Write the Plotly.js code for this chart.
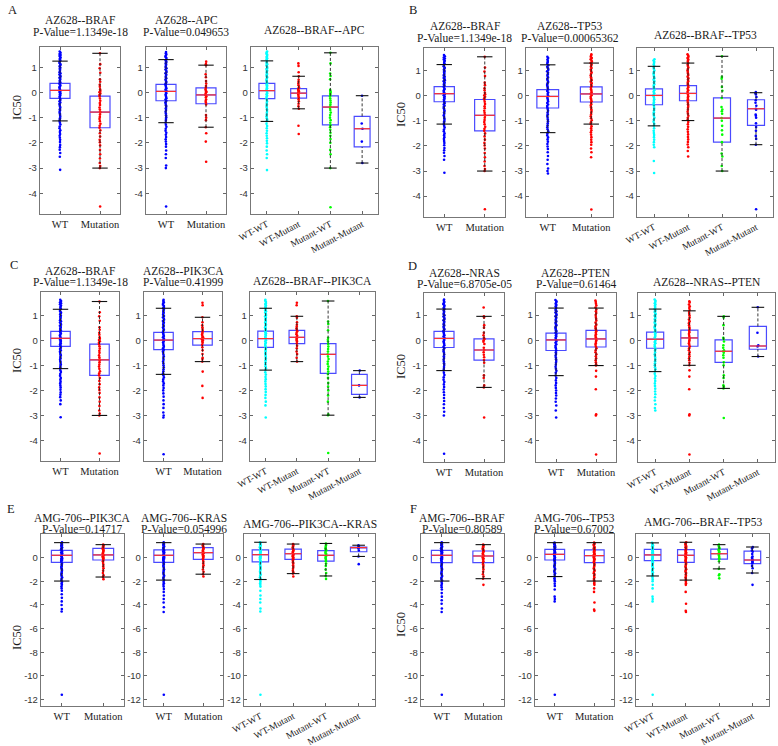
<!DOCTYPE html>
<html><head><meta charset="utf-8">
<script src="https://cdn.plot.ly/plotly-3.0.1.min.js"></script>
<style>html,body{margin:0;padding:0;background:#fff}#chart{width:778px;height:746px}</style>
</head><body><div id="chart"></div>
<script>
// ---------- categories / colours ----------
const CAT2 = ['WT','Mutation'];
const CAT4 = ['WT-WT','WT-Mutant','Mutant-WT','Mutant-Mutant'];
const COL2 = ['#0000ff','#ff0000'];
const COL4 = ['#00ffff','#ff0000','#00ff00','#0000ff'];

// ---------- AZ628 data (IC50 points, box stats = [lowWhisker,q1,median,q3,highWhisker]) ----------
const AZ_BRAF_WT = [1.62,1.57,1.52,1.48,1.44,1.39,1.35,1.3,1.26,1.22,1.17,1.12,1.08,1.03,0.98,0.94,0.9,0.85,0.8,0.76,0.71,0.67,0.62,0.58,0.53,0.49,0.45,0.4,0.36,0.32,0.27,0.23,0.19,0.14,0.1,0.06,0.02,-0.03,-0.07,-0.12,-0.16,-0.21,-0.25,-0.3,-0.35,-0.4,-0.45,-0.5,-0.56,-0.61,-0.67,-0.72,-0.78,-0.84,-0.9,-0.96,-1.02,-1.08,-1.13,-1.2,-1.27,-1.35,-1.42,-1.5,-1.57,-1.65,-1.72,-1.8,-1.88,-1.97,-2.08,-2.17,-2.27,-2.4,-2.55,-3.07];
const AZ_BRAF_WT_BOX = [-1.13,-0.24,0.08,0.36,1.24];
const AZ_BRAF_MUT = [1.55,1.12,0.96,0.78,0.52,0.42,0.3,0.22,0.12,0.06,0.01,-0.04,-0.1,-0.16,-0.24,-0.33,-0.42,-0.5,-0.6,-0.68,-0.76,-0.8,-0.88,-0.97,-1.05,-1.14,-1.24,-1.32,-1.4,-1.5,-1.62,-1.75,-1.88,-1.98,-2.1,-2.28,-2.45,-2.62,-2.8,-2.92,-3.0,-4.52];
const AZ_BRAF_MUT_BOX = [-3.0,-1.4,-0.78,-0.15,1.55];

const AZ_APC_WT = [1.6,1.55,1.5,1.45,1.41,1.36,1.3,1.26,1.21,1.16,1.11,1.06,1.01,0.96,0.91,0.86,0.81,0.76,0.71,0.66,0.61,0.56,0.51,0.46,0.41,0.36,0.31,0.26,0.21,0.16,0.11,0.06,0.02,-0.03,-0.08,-0.13,-0.18,-0.23,-0.28,-0.33,-0.39,-0.45,-0.51,-0.57,-0.63,-0.7,-0.77,-0.84,-0.91,-0.98,-1.05,-1.12,-1.2,-1.28,-1.36,-1.44,-1.52,-1.6,-1.68,-1.77,-1.86,-1.95,-2.05,-2.15,-2.3,-2.45,-2.6,-2.9,-3.0,-4.52];
const AZ_APC_WT_BOX = [-1.2,-0.33,0.04,0.32,1.3];
const AZ_APC_MUT = [1.22,1.12,1.08,0.72,0.6,0.45,0.35,0.25,0.18,0.12,0.06,0.02,-0.04,-0.1,-0.15,-0.2,-0.28,-0.34,-0.4,-0.48,-0.9,-1.0,-1.1,-1.38,-1.62,-1.95,-2.75];
const AZ_APC_MUT_BOX = [-1.38,-0.45,-0.1,0.18,1.08];

const AZ_BA_WTWT = [1.62,1.58,1.53,1.49,1.44,1.4,1.35,1.31,1.26,1.21,1.17,1.12,1.07,1.02,0.97,0.93,0.88,0.83,0.78,0.73,0.69,0.64,0.59,0.54,0.49,0.45,0.4,0.35,0.3,0.26,0.21,0.16,0.12,0.07,0.02,-0.03,-0.08,-0.13,-0.18,-0.24,-0.3,-0.36,-0.42,-0.48,-0.54,-0.6,-0.67,-0.74,-0.81,-0.88,-0.95,-1.02,-1.09,-1.15,-1.24,-1.33,-1.42,-1.52,-1.62,-1.72,-1.82,-1.92,-2.02,-2.15,-2.3,-2.45,-2.6,-3.08];
const AZ_BA_WTWT_BOX = [-1.15,-0.25,0.07,0.36,1.25];
const AZ_BA_WTMUT = [1.15,1.05,0.8,0.64,0.5,0.42,0.35,0.28,0.2,0.14,0.1,0.05,0.01,-0.03,-0.08,-0.14,-0.2,-0.27,-0.35,-0.45,-0.55,-0.65,-1.32,-1.65];
const AZ_BA_WTMUT_BOX = [-0.65,-0.23,-0.03,0.15,0.64];
const AZ_BA_MUTWT = [1.57,1.15,0.75,0.65,0.52,0.1,0.05,0.0,-0.05,-0.1,-0.16,-0.24,-0.32,-0.4,-0.48,-0.55,-0.62,-0.7,-0.8,-0.9,-1.0,-1.1,-1.2,-1.3,-1.38,-1.48,-1.6,-1.72,-1.85,-2.0,-2.28,-2.45,-3.0,-4.55];
const AZ_BA_MUTWT_BOX = [-3.0,-1.29,-0.58,-0.14,1.57];
const AZ_BA_MUTMUT = [-0.13,-1.23,-1.44,-1.95,-2.8];
const AZ_BA_MUTMUT_BOX = [-2.8,-2.16,-1.44,-0.95,-0.13];

const AZ_TP53_WT = [1.55,1.5,1.44,1.38,1.33,1.27,1.21,1.15,1.09,1.03,0.97,0.91,0.85,0.79,0.73,0.67,0.61,0.55,0.49,0.43,0.37,0.31,0.25,0.19,0.13,0.07,0.01,-0.05,-0.11,-0.17,-0.23,-0.29,-0.35,-0.41,-0.47,-0.53,-0.6,-0.67,-0.74,-0.81,-0.88,-0.95,-1.02,-1.1,-1.18,-1.26,-1.34,-1.42,-1.5,-1.58,-1.66,-1.74,-1.83,-1.92,-2.02,-2.12,-2.25,-2.4,-2.55,-2.72,-2.9,-3.0,-3.1];
const AZ_TP53_WT_BOX = [-1.47,-0.49,-0.03,0.24,1.23];
const AZ_TP53_MUT = [1.65,1.6,1.55,1.5,1.45,1.4,1.35,1.3,1.25,1.2,1.15,1.1,1.04,0.98,0.92,0.86,0.8,0.74,0.68,0.62,0.56,0.5,0.44,0.38,0.32,0.26,0.2,0.14,0.08,0.02,-0.04,-0.1,-0.16,-0.22,-0.28,-0.34,-0.4,-0.47,-0.54,-0.61,-0.68,-0.75,-0.82,-0.9,-0.98,-1.06,-1.13,-1.22,-1.3,-1.38,-1.46,-1.55,-1.65,-1.75,-1.85,-1.95,-2.1,-2.25,-2.45,-4.53];
const AZ_TP53_MUT_BOX = [-1.13,-0.25,0.07,0.35,1.3];

const AZ_BT_WTWT = [1.45,1.4,1.35,1.3,1.24,1.18,1.12,1.06,1.0,0.94,0.88,0.82,0.76,0.7,0.64,0.58,0.52,0.46,0.4,0.34,0.28,0.22,0.16,0.1,0.04,-0.02,-0.08,-0.14,-0.2,-0.26,-0.32,-0.38,-0.45,-0.52,-0.59,-0.66,-0.73,-0.8,-0.88,-0.96,-1.04,-1.12,-1.2,-1.3,-1.4,-1.48,-1.56,-1.65,-1.75,-1.85,-1.95,-2.05,-2.6,-3.08];
const AZ_BT_WTWT_BOX = [-1.2,-0.36,0.01,0.27,1.17];
const AZ_BT_WTMUT = [1.65,1.6,1.55,1.5,1.45,1.4,1.35,1.3,1.24,1.18,1.12,1.06,1.0,0.94,0.88,0.82,0.76,0.7,0.64,0.58,0.52,0.46,0.4,0.34,0.28,0.22,0.16,0.1,0.04,-0.02,-0.08,-0.14,-0.2,-0.27,-0.34,-0.41,-0.48,-0.56,-0.64,-0.72,-0.8,-0.88,-0.96,-1.05,-1.14,-1.24,-1.34,-1.44,-1.54,-1.64,-1.74,-1.84,-1.94,-2.05,-2.2,-2.42];
const AZ_BT_WTMUT_BOX = [-0.99,-0.2,0.09,0.4,1.3];
const AZ_BT_MUTWT = [1.57,0.75,0.68,0.35,0.2,-0.09,-0.45,-0.55,-0.62,-0.72,-0.89,-1.0,-1.2,-1.38,-1.55,-1.85,-2.3,-2.42,-2.8,-3.0];
const AZ_BT_MUTWT_BOX = [-3.0,-1.85,-0.89,-0.09,1.57];
const AZ_BT_MUTMUT = [0.15,0.1,0.05,-0.05,-0.18,-0.28,-0.4,-0.52,-0.56,-0.75,-0.8,-0.88,-1.1,-1.25,-1.4,-1.6,-1.72,-1.95,-4.52];
const AZ_BT_MUTMUT_BOX = [-1.95,-1.18,-0.52,-0.16,0.12];

const AZ_PIK_WT = [1.62,1.57,1.52,1.47,1.42,1.37,1.32,1.27,1.22,1.17,1.12,1.07,1.02,0.97,0.92,0.87,0.82,0.77,0.72,0.67,0.62,0.57,0.52,0.47,0.42,0.37,0.32,0.27,0.22,0.17,0.12,0.07,0.02,-0.03,-0.08,-0.14,-0.2,-0.26,-0.32,-0.38,-0.44,-0.5,-0.57,-0.64,-0.71,-0.78,-0.85,-0.92,-1.0,-1.08,-1.16,-1.24,-1.32,-1.4,-1.48,-1.56,-1.64,-1.72,-1.8,-1.9,-2.0,-2.12,-2.25,-2.4,-2.55,-2.7,-2.88,-3.0,-3.08,-4.55];
const AZ_PIK_WT_BOX = [-1.36,-0.37,0.01,0.32,1.28];
const AZ_PIK_MUT = [1.5,1.4,0.92,0.72,0.6,0.52,0.45,0.38,0.33,0.27,0.22,0.17,0.12,0.08,0.04,0.0,-0.05,-0.1,-0.18,-0.28,-0.4,-0.55,-0.7,-0.75,-0.85,-1.25,-1.82,-2.3];
const AZ_PIK_MUT_BOX = [-0.85,-0.19,0.07,0.35,0.92];

const AZ_BP_WTWT = [1.62,1.58,1.53,1.48,1.44,1.39,1.34,1.3,1.25,1.2,1.16,1.11,1.06,1.01,0.96,0.91,0.86,0.82,0.77,0.72,0.67,0.62,0.57,0.52,0.48,0.43,0.38,0.33,0.28,0.24,0.19,0.14,0.1,0.05,0.0,-0.05,-0.1,-0.15,-0.21,-0.27,-0.33,-0.39,-0.45,-0.52,-0.59,-0.66,-0.73,-0.8,-0.88,-0.96,-1.04,-1.12,-1.19,-1.28,-1.37,-1.46,-1.55,-1.64,-1.74,-1.84,-1.95,-2.06,-2.18,-2.3,-2.45,-2.6,-3.08];
const AZ_BP_WTWT_BOX = [-1.19,-0.28,0.07,0.37,1.28];
const AZ_BP_WTMUT = [1.5,1.4,0.96,0.9,0.72,0.62,0.55,0.48,0.42,0.36,0.3,0.24,0.18,0.13,0.09,0.05,0.0,-0.05,-0.12,-0.22,-0.32,-0.45,-0.55,-0.7,-0.85];
const AZ_BP_WTMUT_BOX = [-0.85,-0.13,0.12,0.4,0.96];
const AZ_BP_MUTWT = [1.57,0.75,0.65,0.4,0.1,0.02,-0.05,-0.15,-0.25,-0.35,-0.45,-0.56,-0.65,-0.75,-0.85,-0.95,-1.05,-1.15,-1.25,-1.35,-1.5,-1.7,-1.85,-2.0,-2.2,-2.45,-2.95,-2.99,-4.5];
const AZ_BP_MUTWT_BOX = [-2.99,-1.32,-0.56,-0.13,1.57];
const AZ_BP_MUTMUT = [-1.21,-1.8,-2.28];
const AZ_BP_MUTMUT_BOX = [-2.28,-2.16,-1.8,-1.36,-1.21];

const AZ_NRAS_WT = [1.62,1.57,1.52,1.47,1.43,1.38,1.33,1.28,1.24,1.19,1.14,1.09,1.04,0.99,0.94,0.89,0.84,0.79,0.74,0.69,0.64,0.59,0.54,0.49,0.44,0.39,0.35,0.3,0.25,0.2,0.15,0.1,0.05,0.01,-0.04,-0.09,-0.14,-0.2,-0.26,-0.32,-0.38,-0.44,-0.5,-0.57,-0.64,-0.71,-0.78,-0.85,-0.92,-0.99,-1.07,-1.15,-1.21,-1.3,-1.39,-1.48,-1.57,-1.66,-1.76,-1.86,-1.96,-2.07,-2.18,-2.3,-2.42,-2.55,-2.7,-2.85,-3.0,-4.52];
const AZ_NRAS_WT_BOX = [-1.21,-0.29,0.07,0.35,1.24];
const AZ_NRAS_MUT = [1.3,0.95,0.9,0.6,0.5,0.3,0.2,0.1,0.05,0.0,-0.06,-0.15,-0.3,-0.39,-0.48,-0.58,-0.68,-0.79,-0.9,-1.4,-1.5,-1.8,-1.88,-3.08];
const AZ_NRAS_MUT_BOX = [-1.88,-0.79,-0.39,0.05,0.95];

const AZ_PTEN_WT = [1.6,1.55,1.5,1.45,1.4,1.35,1.3,1.25,1.2,1.15,1.1,1.05,1.0,0.95,0.9,0.85,0.8,0.75,0.7,0.65,0.6,0.55,0.5,0.45,0.4,0.35,0.3,0.25,0.2,0.15,0.1,0.05,0.0,-0.05,-0.1,-0.16,-0.22,-0.28,-0.34,-0.41,-0.48,-0.55,-0.62,-0.69,-0.76,-0.83,-0.9,-0.98,-1.06,-1.14,-1.22,-1.3,-1.41,-1.5,-1.6,-1.7,-1.8,-1.9,-2.0,-2.1,-2.2,-2.32,-2.45,-2.6,-2.8,-3.08];
const AZ_PTEN_WT_BOX = [-1.41,-0.41,0.01,0.28,1.28];
const AZ_PTEN_MUT = [1.58,1.52,1.45,1.38,1.3,1.22,1.15,1.08,1.0,0.92,0.85,0.78,0.7,0.62,0.55,0.48,0.42,0.36,0.3,0.24,0.18,0.12,0.06,0.0,-0.06,-0.12,-0.18,-0.25,-0.32,-0.4,-0.48,-0.56,-0.64,-0.72,-0.8,-0.88,-0.96,-1.01,-1.22,-1.45,-1.95,-2.95,-3.0,-4.55];
const AZ_PTEN_MUT_BOX = [-1.01,-0.27,0.05,0.39,1.28];

const AZ_NP_WTWT = [1.62,1.57,1.52,1.47,1.42,1.37,1.32,1.27,1.22,1.17,1.12,1.07,1.02,0.97,0.92,0.87,0.82,0.77,0.72,0.67,0.62,0.57,0.52,0.47,0.42,0.37,0.32,0.27,0.22,0.17,0.12,0.07,0.03,-0.02,-0.07,-0.12,-0.18,-0.24,-0.3,-0.36,-0.42,-0.49,-0.56,-0.63,-0.7,-0.77,-0.84,-0.92,-1.0,-1.08,-1.16,-1.25,-1.34,-1.43,-1.52,-1.62,-1.72,-1.82,-1.93,-2.04,-2.15,-2.27,-2.4,-2.55,-2.7,-2.8];
const AZ_NP_WTWT_BOX = [-1.25,-0.32,0.04,0.32,1.24];
const AZ_NP_WTMUT = [1.55,1.5,1.42,1.35,1.28,1.2,1.12,1.05,0.98,0.9,0.82,0.75,0.68,0.6,0.52,0.45,0.38,0.32,0.25,0.18,0.12,0.06,0.0,-0.06,-0.12,-0.18,-0.25,-0.32,-0.4,-0.48,-0.56,-0.64,-0.72,-0.8,-0.9,-1.0,-1.2,-1.45,-1.95,-2.95,-3.0,-4.55];
const AZ_NP_WTMUT_BOX = [-1.0,-0.24,0.09,0.4,1.17];
const AZ_NP_MUTWT = [0.95,0.9,0.6,0.1,0.05,-0.05,-0.2,-0.3,-0.4,-0.44,-0.5,-0.6,-0.7,-0.88,-1.0,-1.4,-1.5,-1.8,-1.85,-1.92,-3.1];
const AZ_NP_MUTWT_BOX = [-1.92,-0.88,-0.44,0.01,0.95];
const AZ_NP_MUTMUT = [1.31,0.3,-0.2,-0.25,-0.65];
const AZ_NP_MUTMUT_BOX = [-0.65,-0.36,-0.23,0.55,1.31];

// ---------- AMG-706 data ----------
const AMG_PIK_WT = [1.3,1.22,1.15,1.08,1.0,0.93,0.86,0.79,0.72,0.65,0.58,0.51,0.44,0.37,0.3,0.23,0.16,0.09,0.02,-0.05,-0.12,-0.19,-0.27,-0.35,-0.43,-0.52,-0.61,-0.7,-0.8,-0.9,-1.0,-1.1,-1.21,-1.32,-1.44,-1.56,-1.68,-1.8,-1.93,-2.05,-2.18,-2.3,-2.45,-2.6,-2.8,-3.1,-3.4,-3.7,-4.0,-4.35,-4.55,-11.6];
const AMG_PIK_WT_BOX = [-1.98,-0.4,0.2,0.62,1.27];
const AMG_PIK_MUT = [1.1,1.02,0.95,0.88,0.8,0.72,0.65,0.58,0.5,0.42,0.35,0.28,0.2,0.12,0.05,-0.02,-0.1,-0.2,-0.3,-0.45,-0.6,-0.75,-0.9,-1.1,-1.3,-1.5,-1.64,-1.82];
const AMG_PIK_MUT_BOX = [-1.64,-0.2,0.23,0.79,1.1];

const AMG_KRAS_WT = [1.3,1.23,1.16,1.09,1.02,0.95,0.88,0.81,0.74,0.67,0.6,0.53,0.46,0.39,0.32,0.25,0.18,0.11,0.04,-0.03,-0.1,-0.17,-0.25,-0.33,-0.41,-0.5,-0.59,-0.68,-0.78,-0.88,-0.98,-1.08,-1.19,-1.3,-1.42,-1.54,-1.66,-1.78,-1.9,-2.03,-2.16,-2.3,-2.45,-2.65,-2.9,-3.2,-3.5,-3.8,-4.2,-4.6,-11.6];
const AMG_KRAS_WT_BOX = [-1.9,-0.4,0.2,0.65,1.27];
const AMG_KRAS_MUT = [1.15,1.05,0.95,0.88,0.8,0.72,0.64,0.56,0.48,0.4,0.32,0.24,0.16,0.08,0.0,-0.1,-0.2,-0.35,-0.5,-0.65,-0.8,-1.0,-1.2,-1.4,-1.6];
const AMG_KRAS_MUT_BOX = [-1.4,-0.15,0.42,0.85,1.15];

const AMG_PK_WTWT = [1.3,1.23,1.16,1.09,1.02,0.95,0.88,0.81,0.74,0.67,0.6,0.53,0.46,0.39,0.32,0.25,0.18,0.11,0.04,-0.03,-0.1,-0.17,-0.25,-0.33,-0.41,-0.5,-0.59,-0.68,-0.78,-0.88,-0.98,-1.08,-1.19,-1.3,-1.42,-1.54,-1.66,-1.78,-1.9,-2.03,-2.16,-2.3,-2.45,-2.8,-3.2,-3.5,-3.8,-4.3,-4.55,-11.6];
const AMG_PK_WTWT_BOX = [-1.85,-0.35,0.25,0.65,1.3];
const AMG_PK_WTMUT = [1.15,1.08,1.0,0.92,0.85,0.78,0.7,0.62,0.55,0.48,0.4,0.32,0.25,0.18,0.1,0.02,-0.06,-0.15,-0.25,-0.38,-0.5,-0.65,-0.8,-0.95,-1.1,-1.25,-1.35,-1.6];
const AMG_PK_WTMUT_BOX = [-1.35,-0.15,0.33,0.72,1.15];
const AMG_PK_MUTWT = [1.2,1.1,1.0,0.9,0.8,0.7,0.6,0.5,0.4,0.3,0.2,0.1,0.0,-0.1,-0.2,-0.3,-0.5,-0.7,-1.0,-1.3,-1.55,-1.8];
const AMG_PK_MUTWT_BOX = [-1.55,-0.3,0.2,0.6,1.2];
const AMG_PK_MUTMUT = [1.05,0.95,0.9,0.87,0.83,0.78,0.6,0.1,-0.55];
const AMG_PK_MUTMUT_BOX = [0.1,0.5,0.85,0.9,1.05];

const AMG_BRAF_WT = [1.3,1.22,1.15,1.08,1.0,0.93,0.86,0.79,0.72,0.65,0.58,0.51,0.44,0.37,0.3,0.23,0.16,0.09,0.02,-0.05,-0.12,-0.19,-0.27,-0.35,-0.43,-0.52,-0.61,-0.7,-0.8,-0.9,-1.0,-1.1,-1.21,-1.32,-1.44,-1.56,-1.68,-1.8,-1.93,-2.05,-2.2,-2.35,-2.5,-2.7,-3.0,-3.3,-3.6,-3.9,-4.3,-4.6,-11.6];
const AMG_BRAF_WT_BOX = [-1.98,-0.42,0.2,0.62,1.27];
const AMG_BRAF_MUT = [1.1,1.02,0.94,0.86,0.78,0.7,0.62,0.55,0.48,0.4,0.32,0.24,0.16,0.08,0.0,-0.08,-0.18,-0.3,-0.42,-0.55,-0.7,-0.85,-1.0,-1.2,-1.4,-1.6,-1.78,-2.3];
const AMG_BRAF_MUT_BOX = [-1.78,-0.42,0.14,0.56,1.1];

const AMG_TP53_WT = [1.27,1.2,1.13,1.06,0.99,0.92,0.85,0.78,0.71,0.64,0.57,0.5,0.43,0.36,0.29,0.22,0.15,0.08,0.01,-0.06,-0.13,-0.2,-0.28,-0.36,-0.45,-0.54,-0.64,-0.74,-0.85,-0.96,-1.08,-1.2,-1.32,-1.45,-1.6,-1.75,-1.9,-2.0,-2.2,-2.4,-2.7,-3.3,-3.5,-3.7,-11.6];
const AMG_TP53_WT_BOX = [-1.6,-0.2,0.28,0.7,1.27];
const AMG_TP53_MUT = [1.27,1.2,1.13,1.06,0.99,0.92,0.85,0.78,0.71,0.64,0.57,0.5,0.43,0.36,0.29,0.22,0.15,0.08,0.01,-0.06,-0.13,-0.2,-0.28,-0.36,-0.44,-0.52,-0.61,-0.7,-0.8,-0.9,-1.0,-1.1,-1.21,-1.32,-1.44,-1.56,-1.68,-1.8,-1.92,-2.05,-2.18,-2.3,-2.6,-2.9,-3.8,-4.4,-4.5];
const AMG_TP53_MUT_BOX = [-1.98,-0.42,0.17,0.65,1.27];

const AMG_BT_WTWT = [1.25,1.18,1.11,1.04,0.97,0.9,0.83,0.76,0.69,0.62,0.55,0.48,0.41,0.34,0.27,0.2,0.13,0.06,-0.01,-0.08,-0.15,-0.23,-0.31,-0.4,-0.49,-0.58,-0.68,-0.78,-0.89,-1.0,-1.12,-1.24,-1.36,-1.48,-1.55,-1.7,-1.85,-2.0,-2.3,-2.6,-3.3,-3.5,-3.7,-11.6];
const AMG_BT_WTWT_BOX = [-1.55,-0.25,0.23,0.7,1.25];
const AMG_BT_WTMUT = [1.3,1.23,1.16,1.09,1.02,0.95,0.88,0.81,0.74,0.67,0.6,0.53,0.46,0.39,0.32,0.25,0.18,0.11,0.04,-0.03,-0.1,-0.17,-0.25,-0.33,-0.41,-0.5,-0.59,-0.68,-0.78,-0.88,-0.98,-1.08,-1.19,-1.3,-1.42,-1.54,-1.66,-1.78,-1.9,-2.03,-2.16,-2.3,-2.9,-3.9,-4.5,-4.6];
const AMG_BT_WTMUT_BOX = [-1.9,-0.4,0.2,0.68,1.3];
const AMG_BT_MUTWT = [1.1,1.0,0.9,0.8,0.7,0.6,0.5,0.4,0.33,0.25,0.15,0.05,-0.05,-0.12,-0.3,-0.95,-1.4,-1.5,-1.75];
const AMG_BT_MUTWT_BOX = [-0.95,-0.12,0.33,0.72,1.1];
const AMG_BT_MUTMUT = [0.9,0.8,0.6,0.5,0.3,0.1,0.0,-0.1,-0.2,-0.3,-0.4,-0.5,-0.7,-0.9,-1.3,-2.3];
const AMG_BT_MUTMUT_BOX = [-1.3,-0.5,-0.2,0.55,0.9];

// ---------- titles ----------
const T_A = [['AZ628--BRAF','P-Value=1.1349e-18'],['AZ628--APC','P-Value=0.049653'],['AZ628--BRAF--APC']];
const T_B = [['AZ628--BRAF','P-Value=1.1349e-18'],['AZ628--TP53','P-Value=0.00065362'],['AZ628--BRAF--TP53']];
const T_C = [['AZ628--BRAF','P-Value=1.1349e-18'],['AZ628--PIK3CA','P-Value=0.41999'],['AZ628--BRAF--PIK3CA']];
const T_D = [['AZ628--NRAS','P-Value=6.8705e-05'],['AZ628--PTEN','P-Value=0.61464'],['AZ628--NRAS--PTEN']];
const T_E = [['AMG-706--PIK3CA','P-Value=0.14717'],['AMG-706--KRAS','P-Value=0.054996'],['AMG-706--PIK3CA--KRAS']];
const T_F = [['AMG-706--BRAF','P-Value=0.80589'],['AMG-706--TP53','P-Value=0.67002'],['AMG-706--BRAF--TP53']];
const AZ_TICKS = [-4,-3,-2,-1,0,1];
const AMG_TICKS = [-12,-10,-8,-6,-4,-2,0];

// ---------- panel composition ----------
const PANELS = [
 {key:'A', titles:T_A, ticks:AZ_TICKS, groups:[
   [[AZ_BRAF_WT,AZ_BRAF_WT_BOX],[AZ_BRAF_MUT,AZ_BRAF_MUT_BOX]],
   [[AZ_APC_WT,AZ_APC_WT_BOX],[AZ_APC_MUT,AZ_APC_MUT_BOX]],
   [[AZ_BA_WTWT,AZ_BA_WTWT_BOX],[AZ_BA_WTMUT,AZ_BA_WTMUT_BOX],[AZ_BA_MUTWT,AZ_BA_MUTWT_BOX],[AZ_BA_MUTMUT,AZ_BA_MUTMUT_BOX]]]},
 {key:'B', titles:T_B, ticks:AZ_TICKS, groups:[
   [[AZ_BRAF_WT,AZ_BRAF_WT_BOX],[AZ_BRAF_MUT,AZ_BRAF_MUT_BOX]],
   [[AZ_TP53_WT,AZ_TP53_WT_BOX],[AZ_TP53_MUT,AZ_TP53_MUT_BOX]],
   [[AZ_BT_WTWT,AZ_BT_WTWT_BOX],[AZ_BT_WTMUT,AZ_BT_WTMUT_BOX],[AZ_BT_MUTWT,AZ_BT_MUTWT_BOX],[AZ_BT_MUTMUT,AZ_BT_MUTMUT_BOX]]]},
 {key:'C', titles:T_C, ticks:AZ_TICKS, groups:[
   [[AZ_BRAF_WT,AZ_BRAF_WT_BOX],[AZ_BRAF_MUT,AZ_BRAF_MUT_BOX]],
   [[AZ_PIK_WT,AZ_PIK_WT_BOX],[AZ_PIK_MUT,AZ_PIK_MUT_BOX]],
   [[AZ_BP_WTWT,AZ_BP_WTWT_BOX],[AZ_BP_WTMUT,AZ_BP_WTMUT_BOX],[AZ_BP_MUTWT,AZ_BP_MUTWT_BOX],[AZ_BP_MUTMUT,AZ_BP_MUTMUT_BOX]]]},
 {key:'D', titles:T_D, ticks:AZ_TICKS, groups:[
   [[AZ_NRAS_WT,AZ_NRAS_WT_BOX],[AZ_NRAS_MUT,AZ_NRAS_MUT_BOX]],
   [[AZ_PTEN_WT,AZ_PTEN_WT_BOX],[AZ_PTEN_MUT,AZ_PTEN_MUT_BOX]],
   [[AZ_NP_WTWT,AZ_NP_WTWT_BOX],[AZ_NP_WTMUT,AZ_NP_WTMUT_BOX],[AZ_NP_MUTWT,AZ_NP_MUTWT_BOX],[AZ_NP_MUTMUT,AZ_NP_MUTMUT_BOX]]]},
 {key:'E', titles:T_E, ticks:AMG_TICKS, groups:[
   [[AMG_PIK_WT,AMG_PIK_WT_BOX],[AMG_PIK_MUT,AMG_PIK_MUT_BOX]],
   [[AMG_KRAS_WT,AMG_KRAS_WT_BOX],[AMG_KRAS_MUT,AMG_KRAS_MUT_BOX]],
   [[AMG_PK_WTWT,AMG_PK_WTWT_BOX],[AMG_PK_WTMUT,AMG_PK_WTMUT_BOX],[AMG_PK_MUTWT,AMG_PK_MUTWT_BOX],[AMG_PK_MUTMUT,AMG_PK_MUTMUT_BOX]]]},
 {key:'F', titles:T_F, ticks:AMG_TICKS, groups:[
   [[AMG_BRAF_WT,AMG_BRAF_WT_BOX],[AMG_BRAF_MUT,AMG_BRAF_MUT_BOX]],
   [[AMG_TP53_WT,AMG_TP53_WT_BOX],[AMG_TP53_MUT,AMG_TP53_MUT_BOX]],
   [[AMG_BT_WTWT,AMG_BT_WTWT_BOX],[AMG_BT_WTMUT,AMG_BT_WTMUT_BOX],[AMG_BT_MUTWT,AMG_BT_MUTWT_BOX],[AMG_BT_MUTMUT,AMG_BT_MUTMUT_BOX]]]}
];

// ---------- geometry (pixels) ----------
const W = 778, H = 746;
const GEO = {
 A:{top:47, bot:214, yr:[-4.82,1.8],  xs:[[40,120],[146,226],[251,378]], t1:20, t2:32, t3:30, letter:[6,10],  ylab:[17,108]},
 B:{top:48, bot:217, yr:[-4.83,1.9],  xs:[[424,505],[526,613],[637,773]], t1:26, t2:38, t3:35, letter:[407,10], ylab:[401,115]},
 C:{top:292,bot:461, yr:[-4.82,1.93], xs:[[41,119],[144,222],[250,375]], t1:271,t2:282,t3:281,letter:[8,265],  ylab:[17,361]},
 D:{top:293,bot:462, yr:[-4.85,1.88], xs:[[424,504],[536,616],[638,775]], t1:273,t2:284,t3:282,letter:[406,266],ylab:[401,367]},
 E:{top:534,bot:706, yr:[-12.55,2.0], xs:[[41,124],[144,223],[244,375]], t1:518,t2:529,t3:524,letter:[5,509],  ylab:[17,638]},
 F:{top:534,bot:706, yr:[-12.55,2.0], xs:[[421,504],[535,614],[636,769]], t1:518,t2:529,t3:522,letter:[408,509],ylab:[401,625]}
};

const SERIF = 'Liberation Serif, Times New Roman, serif';
const SANS = 'Liberation Sans, Arial, sans-serif';
const BOXW = 0.5;

const traces = [];
const layout = {width:W, height:H, margin:{l:0,r:0,t:0,b:0}, showlegend:false,
  paper_bgcolor:'#ffffff', plot_bgcolor:'#ffffff', boxmode:'overlay', annotations:[]};

function ann(text, px, py, size, extra) {
  return Object.assign({text, x:px/W, y:1-py/H, xref:'paper', yref:'paper', showarrow:false,
    xanchor:'center', yanchor:'middle', font:{family:SERIF, size, color:'#1a1a1a'}}, extra||{});
}

let k = 0;
PANELS.forEach(p => {
  const g = GEO[p.key];
  layout.annotations.push(ann(p.key, g.letter[0], g.letter[1], 12.5, {xanchor:'left'}));
  layout.annotations.push(ann('IC50', g.ylab[0], g.ylab[1], 12.5, {textangle:-90}));
  p.groups.forEach((grp, si) => {
    k++;
    const sfx = k === 1 ? '' : String(k);
    const xr = 'x'+sfx, yr = 'y'+sfx;
    const [L, R] = g.xs[si];
    const four = grp.length > 2;
    const cats = four ? CAT4 : CAT2;
    const cols = four ? COL4 : COL2;
    layout['xaxis'+sfx] = {domain:[L/W, R/W], anchor:yr, range:[0.5, cats.length+0.5],
      tickmode:'array', tickvals:cats.map((c,i)=>i+1), ticktext:cats, tickangle: four ? -28 : 0,
      ticks:'inside', ticklen:3, tickcolor:'#666', showline:true, linecolor:'#777', linewidth:1.2,
      mirror:'ticks', showgrid:false, zeroline:false,
      tickfont:{family:SERIF, size: four ? 9.5 : 10.5, color:'#222'}};
    layout['yaxis'+sfx] = {domain:[1-g.bot/H, 1-g.top/H], anchor:xr, range:g.yr,
      tickmode:'array', tickvals:p.ticks, ticktext:p.ticks.map(String),
      ticks:'inside', ticklen:3, tickcolor:'#666', showline:true, linecolor:'#777', linewidth:1.2,
      mirror:'ticks', showgrid:false, zeroline:false,
      tickfont:{family:SANS, size:9.5, color:'#333'}};
    const cx = (L+R)/2;
    const tl = p.titles[si];
    if (tl.length === 2) {
      layout.annotations.push(ann(tl[0], cx, g.t1, 11.5));
      layout.annotations.push(ann(tl[1], cx, g.t2, 11.5));
    } else {
      layout.annotations.push(ann(tl[0], cx, g.t3, 11.5));
    }
    const capSize = four ? 9 : 11;
    grp.forEach(([pts, st], gi) => {
      const pos = gi + 1;
      const [lo, q1, med, q3, hi] = st;
      traces.push({type:'box', x:[pos], q1:[q1], median:[med], q3:[q3], lowerfence:[q1], upperfence:[q3],
        width:BOXW, xaxis:xr, yaxis:yr, boxpoints:false, whiskerwidth:0,
        line:{color:'#4a4aff', width:1.2}, fillcolor:'rgba(0,0,0,0)', hoverinfo:'skip'});
      traces.push({type:'scatter', mode:'lines', x:[pos-BOXW/2, pos+BOXW/2], y:[med, med],
        xaxis:xr, yaxis:yr, line:{color:'#ff3030', width:1.2}, hoverinfo:'skip'});
      traces.push({type:'scatter', mode:'lines', x:[pos,pos,null,pos,pos], y:[lo,q1,null,q3,hi],
        xaxis:xr, yaxis:yr, line:{color:'#222', width:0.9, dash:'3px,2px'}, hoverinfo:'skip'});
      traces.push({type:'box', y:pts, x0:pos, width:BOXW, xaxis:xr, yaxis:yr,
        boxpoints:'all', jitter:0.06, pointpos:0, whiskerwidth:0,
        line:{color:'rgba(0,0,0,0)', width:0}, fillcolor:'rgba(0,0,0,0)',
        marker:{color:cols[gi], size:2.6}, hoverinfo:'y'});
      traces.push({type:'scatter', mode:'markers', x:[pos,pos], y:[lo,hi], xaxis:xr, yaxis:yr,
        marker:{symbol:'line-ew', size:capSize, line:{color:'#111', width:1.1}}, hoverinfo:'skip'});
    });
  });
});

Plotly.newPlot('chart', traces, layout, {staticPlot:true, displayModeBar:false});
</script></body></html>
